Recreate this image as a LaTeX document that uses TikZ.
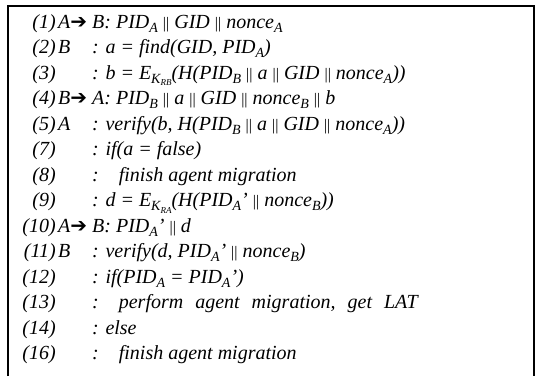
\documentclass[tikz,border=0pt]{standalone}
\usepackage{fontspec}
\setmainfont{Liberation Serif}
\newfontfamily\arrowfont{DejaVu Sans}
\newcommand{\lw}[1]{\raisebox{-0.45ex}{\fontsize{14}{14}\selectfont #1}}
\newcommand{\llw}[1]{\raisebox{-0.4ex}{\fontsize{9}{9}\selectfont #1}}
\newcommand{\bars}{{\upshape\fontsize{16}{16}\selectfont ||}}
\newcommand{\goes}{{\upshape\arrowfont\fontsize{20}{20}\selectfont ➔}}

\begin{document}
\begin{tikzpicture}[x=1pt,y=-1pt,
  num node/.style={anchor=base east,inner sep=0pt,font=\fontsize{20}{24}\selectfont\itshape},
  who node/.style={anchor=base west,inner sep=0pt,font=\fontsize{20}{24}\selectfont\itshape},
  body node/.style={anchor=base west,inner sep=0pt,font=\fontsize{20}{24}\selectfont\itshape}]
  \useasboundingbox (0,0) rectangle (536,376);
  \draw[line width=1.2pt] (8,376) -- (8,6) -- (534,6) -- (534,376);

  \node[num node] (n1) at (56,28) {(1)};
  \node[who node] (w1) at (58,28) {A\goes\ B: PID\lw{A} \bars{} GID \bars{} nonce\lw{A}};
  \node[num node] (n2) at (56,53.5) {(2)};
  \node[who node] (w2) at (58,53.5) {B};
  \node[body node] (b2) at (92,53.5) {: a = find(GID, PID\lw{A})};
  \node[num node] (n3) at (56,79) {(3)};
  \node[body node] (b3) at (92,79) {: b = E\lw{K\llw{RB}}(H(PID\lw{B} \bars{} a \bars{} GID \bars{} nonce\lw{A}))};
  \node[num node] (n4) at (56,104.5) {(4)};
  \node[who node] (w4) at (58,104.5) {B\goes\ A: PID\lw{B} \bars{} a \bars{} GID \bars{} nonce\lw{B} \bars{} b};
  \node[num node] (n5) at (56,130) {(5)};
  \node[who node] (w5) at (58,130) {A};
  \node[body node] (b5) at (92,130) {: verify(b, H(PID\lw{B} \bars{} a \bars{} GID \bars{} nonce\lw{A}))};
  \node[num node] (n7) at (56,155.5) {(7)};
  \node[body node] (b7) at (92,155.5) {: if(a = false)};
  \node[num node] (n8) at (56,181) {(8)};
  \node[body node] (b8) at (92,181) {:\hspace{20pt}finish agent migration};
  \node[num node] (n9) at (56,206.5) {(9)};
  \node[body node] (b9) at (92,206.5) {: d = E\lw{K\llw{RA}}(H(PID\lw{A}' \bars{} nonce\lw{B}))};
  \node[num node] (n10) at (56,232) {(10)};
  \node[who node] (w10) at (58,232) {A\goes\ B: PID\lw{A}' \bars{} d};
  \node[num node] (n11) at (56,257.5) {(11)};
  \node[who node] (w11) at (58,257.5) {B};
  \node[body node] (b11) at (92,257.5) {: verify(d, PID\lw{A}' \bars{} nonce\lw{B})};
  \node[num node] (n12) at (56,283) {(12)};
  \node[body node] (b12) at (92,283) {: if(PID\lw{A} = PID\lw{A}')};
  \node[num node] (n13) at (56,308.5) {(13)};
  \node[body node] (b13) at (92,308.5) {\spaceskip=12pt\relax :\hspace{20pt}perform agent migration, get LAT};
  \node[num node] (n14) at (56,334) {(14)};
  \node[body node] (b14) at (92,334) {: else};
  \node[num node] (n16) at (56,359.5) {(16)};
  \node[body node] (b16) at (92,359.5) {:\hspace{20pt}finish agent migration};
\end{tikzpicture}
\end{document}
